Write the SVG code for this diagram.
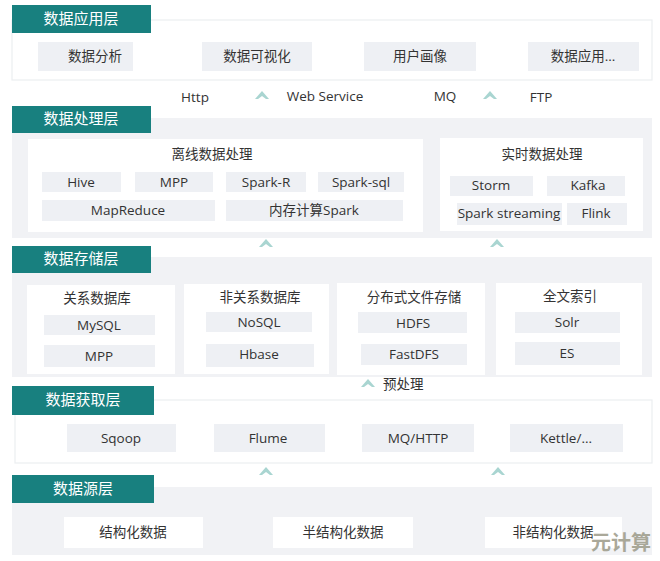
<svg xmlns="http://www.w3.org/2000/svg" width="660" height="561" viewBox="0 0 660 561">
<defs>
<style>
.tab{fill:#18807f}
.tabt{fill:#ffffff;font-family:"Noto Sans CJK SC","Noto Sans",sans-serif;font-size:15px;text-anchor:middle}
.pw{fill:#ffffff;stroke:#eceef1;stroke-width:1.2}
.pg{fill:#f1f2f5}
.box{fill:#ffffff}
.it{fill:#eef0f4}
.t{fill:#333333;font-family:"Open Sans","Noto Sans CJK SC",sans-serif;font-size:13.5px;text-anchor:middle}
.tl{fill:#333333;font-family:"Open Sans","Noto Sans CJK SC",sans-serif;font-size:13.5px}
.arr{fill:#a9d5d1}
</style>
<polygon id="up" class="arr" points="-7,4 0,-4 7,4 4,4 0,1 -4,4"/>
</defs>

<g id="layer-app">
<rect class="pw" x="12" y="20" width="640" height="60"/>
<rect class="tab" x="12" y="5" width="139" height="28"/>
<text class="tabt" x="81" y="24">数据应用层</text>
<g id="app-1"><rect class="it" x="38" y="42" width="95" height="29"/><text class="t" x="95" y="61">数据分析</text></g>
<g id="app-2"><rect class="it" x="202" y="42" width="110" height="29"/><text class="t" x="257" y="61">数据可视化</text></g>
<g id="app-3"><rect class="it" x="364" y="42" width="112" height="29"/><text class="t" x="420" y="61">用户画像</text></g>
<g id="app-4"><rect class="it" x="528" y="42" width="111" height="29"/><text class="t" x="583" y="61">数据应用...</text></g>
</g>

<g id="interfaces">
<text class="t" x="195" y="102">Http</text>
<text class="t" x="325" y="101">Web Service</text>
<text class="t" x="445" y="101">MQ</text>
<text class="t" x="541" y="102">FTP</text>
</g>

<g id="layer-proc">
<rect class="pg" x="12" y="118" width="640" height="120"/>
<rect class="tab" x="12" y="106" width="139" height="27"/>
<text class="tabt" x="81" y="124">数据处理层</text>
<g id="offline">
<rect class="box" x="28" y="139" width="395" height="93"/>
<text class="t" x="212" y="159">离线数据处理</text>
<g id="hive"><rect class="it" x="42" y="172" width="79" height="20"/><text class="t" x="81" y="187">Hive</text></g>
<g id="mpp1"><rect class="it" x="135" y="172" width="78" height="20"/><text class="t" x="174" y="187">MPP</text></g>
<g id="sparkr"><rect class="it" x="226" y="172" width="80" height="20"/><text class="t" x="266" y="187">Spark-R</text></g>
<g id="sparksql"><rect class="it" x="318" y="172" width="86" height="20"/><text class="t" x="361" y="187">Spark-sql</text></g>
<g id="mapreduce"><rect class="it" x="42" y="200" width="173" height="21"/><text class="t" x="128" y="215">MapReduce</text></g>
<g id="memspark"><rect class="it" x="226" y="200" width="177" height="21"/><text class="t" x="314" y="215">内存计算Spark</text></g>
</g>
<g id="realtime">
<rect class="box" x="440" y="138" width="203" height="93"/>
<text class="t" x="542" y="159">实时数据处理</text>
<g id="storm"><rect class="it" x="450" y="176" width="83" height="20"/><text class="t" x="491" y="190">Storm</text></g>
<g id="kafka"><rect class="it" x="547" y="176" width="78" height="20"/><text class="t" x="588" y="190">Kafka</text></g>
<g id="sparkstreaming"><rect class="it" x="457" y="203" width="105" height="22"/><text class="t" x="509" y="218">Spark streaming</text></g>
<g id="flink"><rect class="it" x="567" y="203" width="60" height="22"/><text class="t" x="596" y="218">Flink</text></g>
</g>
</g>

<g id="layer-store">
<rect class="pg" x="12" y="257" width="640" height="120"/>
<rect class="tab" x="12" y="246" width="139" height="27"/>
<text class="tabt" x="81" y="264">数据存储层</text>
<g id="rdb">
<rect class="box" x="27" y="285" width="148" height="89"/>
<text class="t" x="97" y="303">关系数据库</text>
<g id="mysql"><rect class="it" x="44" y="315" width="111" height="20"/><text class="t" x="99" y="330">MySQL</text></g>
<g id="mpp2"><rect class="it" x="44" y="345" width="111" height="22"/><text class="t" x="99" y="361">MPP</text></g>
</g>
<g id="nosqldb">
<rect class="box" x="184" y="284" width="145" height="90"/>
<text class="t" x="260" y="302">非关系数据库</text>
<g id="nosql"><rect class="it" x="206" y="312" width="106" height="20"/><text class="t" x="259" y="327">NoSQL</text></g>
<g id="hbase"><rect class="it" x="206" y="344" width="108" height="23"/><text class="t" x="259" y="359">Hbase</text></g>
</g>
<g id="dfs">
<rect class="box" x="337" y="283" width="148" height="92"/>
<text class="t" x="414" y="302">分布式文件存储</text>
<g id="hdfs"><rect class="it" x="358" y="312" width="109" height="21"/><text class="t" x="413" y="328">HDFS</text></g>
<g id="fastdfs"><rect class="it" x="361" y="344" width="106" height="21"/><text class="t" x="414" y="359">FastDFS</text></g>
</g>
<g id="fts">
<rect class="box" x="496" y="283" width="146" height="92"/>
<text class="t" x="570" y="301">全文索引</text>
<g id="solr"><rect class="it" x="515" y="312" width="105" height="21"/><text class="t" x="567" y="327">Solr</text></g>
<g id="es"><rect class="it" x="515" y="342" width="105" height="23"/><text class="t" x="567" y="358">ES</text></g>
</g>
</g>

<g id="layer-acq">
<rect class="pw" x="15" y="400" width="637" height="63"/>
<rect class="tab" x="12" y="386" width="142" height="29"/>
<text class="tabt" x="83" y="405">数据获取层</text>
<g id="sqoop"><rect class="it" x="67" y="424" width="109" height="28"/><text class="t" x="121" y="443">Sqoop</text></g>
<g id="flume"><rect class="it" x="214" y="424" width="111" height="28"/><text class="t" x="268" y="443">Flume</text></g>
<g id="mqhttp"><rect class="it" x="362" y="424" width="112" height="28"/><text class="t" x="418" y="443">MQ/HTTP</text></g>
<g id="kettle"><rect class="it" x="510" y="424" width="113" height="28"/><text class="t" x="566" y="443">Kettle/...</text></g>
</g>

<g id="layer-src">
<rect class="pg" x="12" y="487" width="640" height="68"/>
<rect class="tab" x="12" y="475" width="142" height="28"/>
<text class="tabt" x="83" y="494">数据源层</text>
<g id="structured"><rect class="box" x="64" y="517" width="139" height="31"/><text class="t" x="133" y="537">结构化数据</text></g>
<g id="semi"><rect class="box" x="273" y="517" width="140" height="31"/><text class="t" x="343" y="537">半结构化数据</text></g>
<g id="unstructured"><rect class="box" x="485" y="517" width="137" height="31"/><text class="t" x="553" y="537">非结构化数据</text></g>
</g>

<g id="connectors">
<use href="#up" x="262" y="95"/>
<use href="#up" x="490" y="95"/>
<use href="#up" x="266" y="243"/>
<use href="#up" x="497" y="243"/>
<use href="#up" x="368" y="383"/>
<text class="tl" x="383" y="389">预处理</text>
<use href="#up" x="266" y="471"/>
<use href="#up" x="498" y="471"/>
</g>

<text x="621" y="550" style="fill:#9c9a88;font-family:'Noto Sans CJK SC',sans-serif;font-size:20px;font-weight:bold;text-anchor:middle;opacity:0.85">元计算</text>
</svg>
